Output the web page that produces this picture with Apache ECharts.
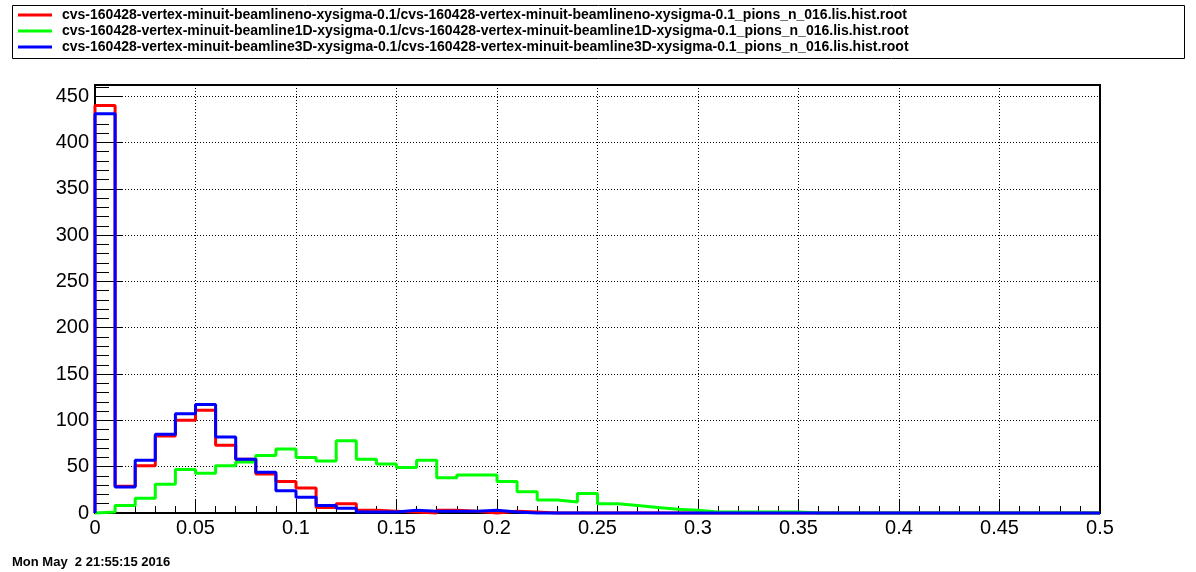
<!DOCTYPE html>
<html>
<head>
<meta charset="utf-8">
<script src="https://cdn.jsdelivr.net/npm/echarts@6/dist/echarts.min.js"></script>
<style>
html,body{margin:0;padding:0;background:#fff;}
#c{width:1196px;height:572px;}
</style>
</head>
<body>
<div id="c"></div>
<script>
// Histogram: 50 bins of width 0.01 from 0 to 0.5
const binWidth = 0.01;
const xMin = 0, xMax = 0.5;
const yMax = 462;

const seriesNames = [
  'cvs-160428-vertex-minuit-beamlineno-xysigma-0.1/cvs-160428-vertex-minuit-beamlineno-xysigma-0.1_pions_n_016.lis.hist.root',
  'cvs-160428-vertex-minuit-beamline1D-xysigma-0.1/cvs-160428-vertex-minuit-beamline1D-xysigma-0.1_pions_n_016.lis.hist.root',
  'cvs-160428-vertex-minuit-beamline3D-xysigma-0.1/cvs-160428-vertex-minuit-beamline3D-xysigma-0.1_pions_n_016.lis.hist.root'
];

const redCounts = [440, 29, 51, 83, 100, 111, 73, 58, 42, 34,
                   27, 6, 10, 3, 2, 1, 0, 3, 2, 0,
                   2, 1, 0, 0, 0, 0, 0, 0, 0, 0,
                   0, 0, 0, 0, 0, 0, 0, 0, 0, 0,
                   0, 0, 0, 0, 0, 0, 0, 0, 0, 0];

const greenCounts = [1, 8, 16, 31, 47, 43, 51, 55, 62, 69,
                     60, 56, 78, 58, 53, 49, 57, 38, 41, 41,
                     34, 23, 14, 12, 21, 10, 8, 6, 4, 3,
                     1, 1, 1, 1, 1, 0, 0, 0, 0, 0,
                     0, 0, 0, 0, 0, 0, 0, 0, 0, 0];

const blueCounts = [431, 28, 57, 85, 107, 117, 82, 58, 44, 24,
                    17, 8, 5, 1, 1, 3, 2, 2, 2, 3,
                    1, 0, 0, 0, 0, 0, 0, 0, 0, 0,
                    0, 0, 0, 0, 0, 0, 0, 0, 0, 0,
                    0, 0, 0, 0, 0, 0, 0, 0, 0, 0];

const dateText = 'Mon May  2 21:55:15 2016';

function histData(counts) {
  const d = [[xMin, 0]];
  counts.forEach((v, i) => d.push([+(i * binWidth).toFixed(2), v]));
  d.push([xMax, counts[counts.length - 1]]);
  return d;
}

const colors = ['#ff0000', '#00ff00', '#0000ff'];
const allCounts = [redCounts, greenCounts, blueCounts];

const chart = echarts.init(document.getElementById('c'), null, {renderer: 'canvas'});
const font = '"Liberation Sans", Arial, Helvetica, sans-serif';

chart.setOption({
  animation: false,
  backgroundColor: '#fff',
  textStyle: {fontFamily: font},
  grid: {left: 95, right: 96, top: 85, bottom: 59, show: true, borderColor: '#000', borderWidth: 2, backgroundColor: 'transparent'},
  legend: {
    orient: 'vertical',
    left: 18, top: 7,
    padding: 0,
    itemGap: 0,
    itemWidth: 34, itemHeight: 3,
    icon: 'rect',
    data: seriesNames,
    textStyle: {fontFamily: font, fontWeight: 'bold', fontSize: 14, color: '#000', lineHeight: 16, padding: [0, 0, 0, 5]}
  },
  graphic: [
    {type: 'rect', shape: {x: 12.5, y: 5.5, width: 1172, height: 53}, style: {fill: 'none', stroke: '#000', lineWidth: 1}, z: 0, silent: true},
    {type: 'text', left: 12, top: 556, style: {text: dateText, font: 'bold 13px ' + font, fill: '#000'}, silent: true}
  ],
  xAxis: {
    type: 'value', min: xMin, max: xMax, interval: 0.05,
    axisLine: {show: true, onZero: false, lineStyle: {color: '#000', width: 2}},
    axisTick: {show: true, inside: true, length: 14, lineStyle: {color: '#000', width: 1}},
    minorTick: {show: true, splitNumber: 5, length: 7, lineStyle: {color: '#000', width: 1}},
    axisLabel: {show: true, margin: 5, fontSize: 20, color: '#000', fontFamily: font},
    splitLine: {show: true, lineStyle: {color: '#000', width: 1, type: [1, 2]}}
  },
  yAxis: [
    {
      type: 'value', min: 0, max: yMax, interval: 50,
      axisLine: {show: true, lineStyle: {color: '#000', width: 2}},
      axisTick: {show: true, inside: true, length: 27, lineStyle: {color: '#000', width: 1}},
      axisLabel: {show: true, margin: 6, fontSize: 20, color: '#000', fontFamily: font,
        formatter: v => (v % 50 === 0 ? String(v) : '')},
      splitLine: {show: true, lineStyle: {color: '#000', width: 1, type: [1, 2]}}
    },
    {
      type: 'value', min: 0, max: yMax, interval: 10, position: 'left',
      axisLine: {show: false},
      axisTick: {show: true, inside: true, length: 14, lineStyle: {color: '#000', width: 1}},
      axisLabel: {show: false},
      splitLine: {show: false}
    }
  ],
  series: allCounts.map((counts, k) => ({
    name: seriesNames[k],
    type: 'line',
    step: 'end',
    yAxisIndex: 0,
    symbol: 'none',
    clip: false,
    color: colors[k],
    lineStyle: {color: colors[k], width: 3},
    data: histData(counts),
    z: 2 + k
  }))
});
</script>
</body>
</html>
